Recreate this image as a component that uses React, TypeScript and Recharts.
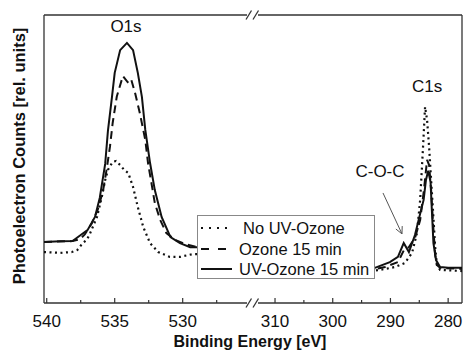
import React from 'react';
import { LineChart, Line, XAxis, YAxis, ReferenceLine, ReferenceDot } from 'recharts';

// ---------- data ----------
const SERIES_NAMES = ['No UV-Ozone', 'Ozone 15 min', 'UV-Ozone 15 min'];

// O1s region (binding energy, eV)
const O1S_SOLID_E = [540.2, 539.0, 538.1, 537.7, 537.3, 537.0, 536.45, 536.1, 535.7, 535.5, 535.2, 535.0, 534.6, 534.1, 533.65, 533.3, 533.0, 532.75, 532.4, 532.05, 531.55, 530.9, 530.2, 529.45, 528.95, 528.0];
const O1S_SOLID_V = [21.2, 21.4, 21.5, 22.9, 24.3, 25.3, 29.9, 36.5, 48.3, 59.7, 71.6, 79.9, 87.8, 90.3, 87.8, 79.9, 71.6, 60.1, 48.6, 39.2, 29.9, 22.9, 20.8, 19.4, 19.4, 19.3];

const O1S_DASH_E = [540.2, 538.1, 537.55, 537.2, 536.7, 536.25, 535.85, 535.6, 535.35, 535.15, 534.85, 534.4, 534.05, 533.8, 533.5, 533.15, 532.75, 532.55, 532.3, 532.05, 531.65, 531.2, 530.55, 529.85, 528.95, 528.0];
const O1S_DASH_V = [21.2, 21.5, 22.2, 23.8, 27.5, 32.3, 39.2, 46.2, 54.2, 62.5, 71.6, 78.8, 76.7, 77.8, 72.9, 65.9, 56.6, 48.6, 41.7, 34.7, 28.8, 24.3, 21.9, 20.5, 19.4, 19.3];

const O1S_DOT_E = [540.2, 539.0, 538.15, 537.75, 537.35, 537.05, 536.8, 536.3, 535.95, 535.7, 535.5, 535.15, 534.9, 534.6, 534.3, 534.0, 533.65, 533.3, 532.9, 532.4, 531.8, 530.95, 530.2, 529.25, 528.0];
const O1S_DOT_V = [17.7, 17.4, 17.7, 18.4, 20.8, 21.9, 24.3, 29.9, 36.8, 42.7, 46.2, 49.0, 49.3, 47.9, 46.2, 45.1, 40.3, 33.3, 26.4, 20.8, 17.7, 16.0, 16.0, 17.0, 17.0];

// C1s region
const C1S_SOLID_E = [294.4, 292.7, 290.1, 288.7, 287.7, 286.8, 285.75, 284.9, 284.25, 283.85, 283.45, 283.05, 282.8, 282.55, 282.1, 281.4, 280.0, 277.6];
const C1S_SOLID_V = [11.5, 12.2, 14.2, 16.0, 20.8, 17.7, 23.6, 30.6, 35.8, 42.7, 45.9, 42.0, 31.3, 20.8, 14.9, 12.5, 12.2, 12.2];

const C1S_DASH_E = [294.4, 290.95, 288.7, 287.65, 286.8, 285.75, 284.85, 284.2, 283.65, 283.3, 282.95, 282.6, 282.25, 281.95, 281.4, 277.6];
const C1S_DASH_V = [11.1, 12.5, 14.2, 18.4, 19.4, 22.6, 28.8, 39.2, 49.7, 47.9, 39.2, 27.1, 16.7, 13.2, 12.2, 11.8];

const C1S_DOT_E = [294.4, 291.8, 289.2, 287.5, 286.25, 285.4, 284.85, 284.35, 284.0, 283.65, 283.3, 282.95, 282.6, 282.25, 281.95, 281.4, 277.6];
const C1S_DOT_V = [10.8, 11.5, 12.5, 13.9, 17.4, 24.3, 35.8, 54.2, 68.1, 63.5, 54.2, 42.7, 31.3, 19.4, 13.2, 11.5, 11.1];

// axes
const LEFT_DOMAIN = [525.27, 540.2];
const RIGHT_DOMAIN = [277.6, 312.95];
const Y_DOMAIN = [0, 100];
const LEFT_TICKS = [540, 537.5, 535, 532.5, 530, 527.5];
const LEFT_LABELS = [540, 535, 530];
const RIGHT_TICKS = [310, 305, 300, 295, 290, 285, 280];
const RIGHT_LABELS = [310, 300, 290, 280];

// annotations
const O1S_LABEL = { e: 534.17, v: 96.2, text: 'O1s' };
const C1S_LABEL = { e: 283.66, v: 75.3, text: 'C1s' };
const COC_LABEL = { e: 291.81, v: 45.7, text: 'C-O-C' };
const COC_ARROW = { e1: 291.29, v1: 38.2, e2: 288.0, v2: 24.0 };

const zip = (es: number[], vs: number[]) => es.map((e, i) => ({ e, v: vs[i] }));

// ---------- styles ----------
const FONT = '"Liberation Sans", Arial, sans-serif';
const INK = '#111';
const FRAME = '#333';
const DASHES = ['2 3.5', '8 5', undefined];
const LINE_W = [2.2, 2, 2];

const makeTick = (labels: number[]) => (props: any) => {
  const { x, y, payload } = props;
  const major = labels.includes(payload.value);
  return (
    <g>
      <line x1={x} x2={x} y1={y} y2={y - (major ? 5 : 3)} stroke={FRAME} strokeWidth={1.2} />
      {major && (
        <text x={x} y={y + 24} textAnchor="middle" fontSize={17} fontFamily={FONT} fill={INK}>
          {payload.value}
        </text>
      )}
    </g>
  );
};

const ArrowShape = (props: any) => {
  const { x1, y1, x2, y2 } = props;
  const dx = x2 - x1, dy = y2 - y1;
  const len = Math.sqrt(dx * dx + dy * dy) || 1;
  const ux = dx / len, uy = dy / len;
  const px = -uy, py = ux;
  const L = 7, W = 3.5;
  const ax = x2 - ux * L, ay = y2 - uy * L;
  return (
    <g>
      <line x1={x1} y1={y1} x2={x2} y2={y2} stroke="#555" strokeWidth={1} />
      <polyline
        points={`${ax + px * W},${ay + py * W} ${x2},${y2} ${ax - px * W},${ay - py * W}`}
        fill="none"
        stroke="#555"
        strokeWidth={1}
      />
    </g>
  );
};

const textLabel = (t: string) => ({
  value: t,
  position: 'center' as const,
  fontSize: 17,
  fontFamily: FONT,
  fill: INK,
});

const seriesLines = (sets: { e: number; v: number }[][]) =>
  sets.map((d, i) => (
    <Line
      key={i}
      data={d}
      dataKey="v"
      type="linear"
      stroke={INK}
      strokeWidth={LINE_W[i]}
      strokeDasharray={DASHES[i]}
      dot={false}
      isAnimationActive={false}
    />
  ));

export default function App() {
  const leftSets = [zip(O1S_DOT_E, O1S_DOT_V), zip(O1S_DASH_E, O1S_DASH_V), zip(O1S_SOLID_E, O1S_SOLID_V)];
  const rightSets = [zip(C1S_DOT_E, C1S_DOT_V), zip(C1S_DASH_E, C1S_DASH_V), zip(C1S_SOLID_E, C1S_SOLID_V)];
  const legendY = [228, 249, 269];
  const legendTextX = [243, 239, 239];

  return (
    <div style={{ position: 'absolute', left: 0, top: 0, width: 463, height: 351, background: '#fff', fontFamily: FONT }}>
      <div style={{ position: 'absolute', left: 0, top: 0 }}>
        <LineChart width={247} height={351} margin={{ top: 15, right: 0, bottom: 18, left: 44 }}>
          <XAxis
            dataKey="e"
            type="number"
            domain={LEFT_DOMAIN}
            allowDataOverflow
            reversed
            ticks={LEFT_TICKS}
            interval={0}
            tickSize={0}
            tickMargin={0}
            height={30}
            stroke={FRAME}
            strokeWidth={1.3}
            tick={makeTick(LEFT_LABELS)}
          />
          <YAxis type="number" domain={Y_DOMAIN} allowDataOverflow hide />
          <ReferenceLine x={LEFT_DOMAIN[1]} stroke={FRAME} strokeWidth={1.3} />
          <ReferenceLine y={Y_DOMAIN[1]} stroke={FRAME} strokeWidth={1.3} />
          {seriesLines(leftSets)}
          <ReferenceDot x={O1S_LABEL.e} y={O1S_LABEL.v} r={0} fill="none" stroke="none" label={textLabel(O1S_LABEL.text)} />
        </LineChart>
      </div>
      <div style={{ position: 'absolute', left: 258, top: 0 }}>
        <LineChart width={205} height={351} margin={{ top: 15, right: 1, bottom: 18, left: 0 }}>
          <XAxis
            dataKey="e"
            type="number"
            domain={RIGHT_DOMAIN}
            allowDataOverflow
            reversed
            ticks={RIGHT_TICKS}
            interval={0}
            tickSize={0}
            tickMargin={0}
            height={30}
            stroke={FRAME}
            strokeWidth={1.3}
            tick={makeTick(RIGHT_LABELS)}
          />
          <YAxis type="number" domain={Y_DOMAIN} allowDataOverflow hide />
          <ReferenceLine x={RIGHT_DOMAIN[0]} stroke={FRAME} strokeWidth={1.3} />
          <ReferenceLine y={Y_DOMAIN[1]} stroke={FRAME} strokeWidth={1.3} />
          {seriesLines(rightSets)}
          <ReferenceLine
            segment={[{ x: COC_ARROW.e1, y: COC_ARROW.v1 }, { x: COC_ARROW.e2, y: COC_ARROW.v2 }]}
            shape={ArrowShape}
          />
          <ReferenceDot x={C1S_LABEL.e} y={C1S_LABEL.v} r={0} fill="none" stroke="none" label={textLabel(C1S_LABEL.text)} />
          <ReferenceDot x={COC_LABEL.e} y={COC_LABEL.v} r={0} fill="none" stroke="none" label={textLabel(COC_LABEL.text)} />
        </LineChart>
      </div>
      <svg
        width={463}
        height={351}
        style={{ position: 'absolute', left: 0, top: 0, pointerEvents: 'none' }}
      >
        {/* axis break marks */}
        {[15, 303].map((yy) => (
          <g key={yy} stroke={FRAME} strokeWidth={1.3}>
            <line x1={246} y1={yy + 4.5} x2={251.5} y2={yy - 4.5} />
            <line x1={253} y1={yy + 4.5} x2={258.5} y2={yy - 4.5} />
          </g>
        ))}
        {/* axis titles */}
        <text x={250} y={347} textAnchor="middle" fontSize={16} fontWeight="bold" fontFamily={FONT} fill={INK}>
          Binding Energy [eV]
        </text>
        <text
          x={25}
          y={156}
          transform="rotate(-90 25 156)"
          textAnchor="middle"
          fontSize={16.5}
          fontWeight="bold"
          fontFamily={FONT}
          fill={INK}
        >
          Photoelectron Counts [rel. units]
        </text>
        {/* legend */}
        <rect x={197.5} y={215.5} width={177} height={63} fill="#fff" stroke="#888" strokeWidth={1} />
        {SERIES_NAMES.map((n, i) => (
          <g key={n}>
            <line
              x1={201}
              x2={232}
              y1={legendY[i]}
              y2={legendY[i]}
              stroke={INK}
              strokeWidth={LINE_W[i]}
              strokeDasharray={i === 0 ? '2 6' : i === 1 ? '8 9' : undefined}
            />
            <text x={legendTextX[i]} y={legendY[i] + 6} fontSize={16.5} fontFamily={FONT} fill={INK}>
              {n}
            </text>
          </g>
        ))}
      </svg>
    </div>
  );
}
